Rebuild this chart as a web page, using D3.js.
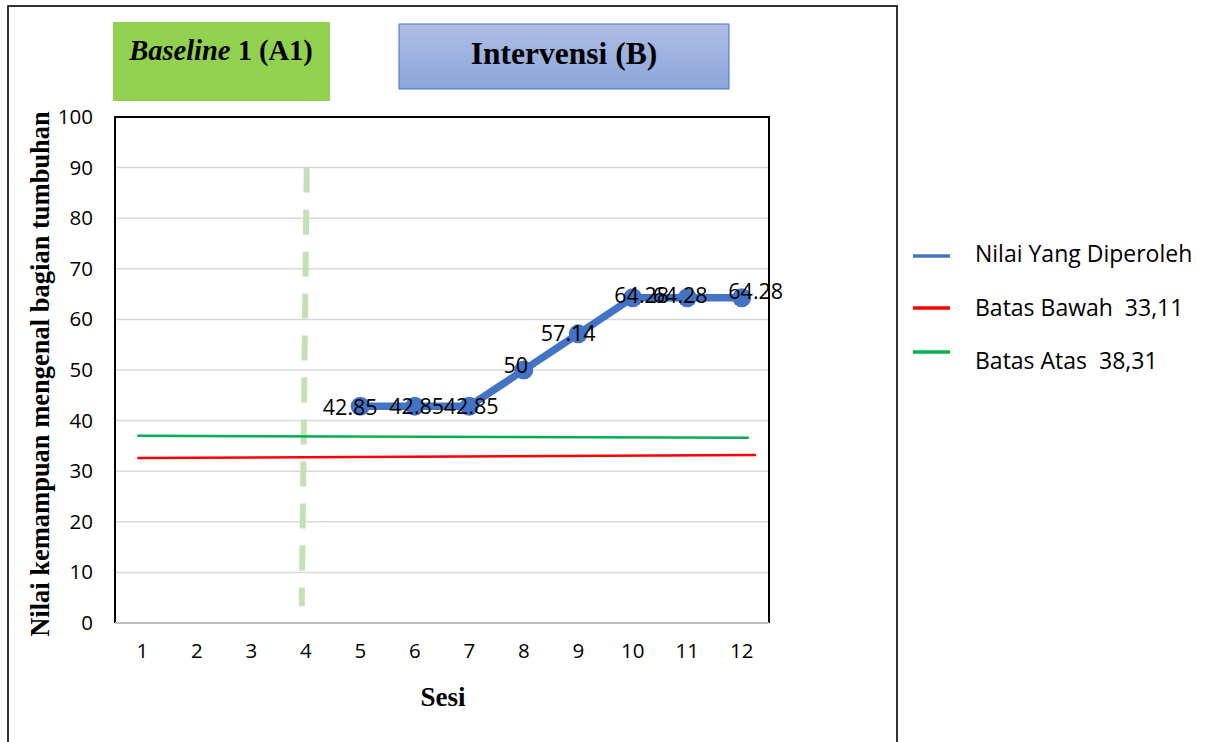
<!DOCTYPE html>
<html>
<head>
<meta charset="utf-8">
<script src="https://cdn.jsdelivr.net/npm/d3@7"></script>
<style>
  html, body { margin: 0; padding: 0; background: #fff; }
  svg { display: block; }
</style>
</head>
<body>
<svg id="chart" width="1209" height="742"></svg>
<script>
// Sessions on the x axis
const sessions = [1, 2, 3, 4, 5, 6, 7, 8, 9, 10, 11, 12];
// Scores obtained in the intervention phase (sessions 5–12)
const scoreSessions = [5, 6, 7, 8, 9, 10, 11, 12];
const scores = [42.85, 42.85, 42.85, 50, 57.14, 64.28, 64.28, 64.28];
const scoreLabels = ["42.85", "42.85", "42.85", "50", "57.14", "64.28", "64.28", "64.28"];
// Y axis ticks
const yTicks = [0, 10, 20, 30, 40, 50, 60, 70, 80, 90, 100];
// Hand-drawn band limits: [start session, start value, end session, end value]
const lowerLimit = [0.91, 32.6, 12.26, 33.2];
const upperLimit = [0.91, 37.0, 12.13, 36.6];
// Phase change line between baseline and intervention
const phaseChange = { sesi: 4, top: 90, bottom: 3.3 };
// Legend entries
const legendNames = ["Nilai Yang Diperoleh", "Batas Bawah  33,11", "Batas Atas  38,31"];
const legendColors = ["#4472c4", "#ff0000", "#00b050"];

const svg = d3.select("#chart");
const plot = { left: 115, right: 769, top: 117, bottom: 623 };

const x = d3.scaleBand().domain(sessions).range([plot.left, plot.right]);
const xc = d => x(d) + x.bandwidth() / 2;
// continuous version for the free-hand limit lines
const xl = d3.scaleLinear().domain([1, 12]).range([xc(1), xc(12)]);
const y = d3.scaleLinear().domain([0, 100]).range([plot.bottom, plot.top]);

const sans = "'Open Sans', 'Noto Sans', sans-serif";
const serif = "'Liberation Serif', 'Times New Roman', serif";

// outer frame
svg.append("rect").attr("x", 8).attr("y", 6).attr("width", 889).attr("height", 780)
  .attr("fill", "none").attr("stroke", "#000").attr("stroke-width", 1.6);

// gridlines
svg.append("g").selectAll("line").data(yTicks.filter(t => t > 0 && t < 100)).join("line")
  .attr("x1", plot.left).attr("x2", plot.right)
  .attr("y1", d => y(d)).attr("y2", d => y(d))
  .attr("stroke", "#d9d9d9").attr("stroke-width", 1.5);

// plot border (black) and category axis line (gray)
svg.append("path")
  .attr("d", `M${plot.left},${plot.bottom}V${plot.top}H${plot.right}V${plot.bottom}`)
  .attr("fill", "none").attr("stroke", "#000").attr("stroke-width", 2);
svg.append("line").attr("x1", plot.left).attr("x2", plot.right)
  .attr("y1", plot.bottom).attr("y2", plot.bottom)
  .attr("stroke", "#bfbfbf").attr("stroke-width", 2);

// y axis labels
const yAxis = d3.axisLeft(y).tickValues(yTicks).tickSize(0).tickPadding(22);
svg.append("g").attr("transform", `translate(${plot.left},0)`).call(yAxis)
  .call(g => g.select(".domain").remove())
  .call(g => g.selectAll("text").attr("font-family", sans).attr("font-size", 20.5).attr("fill", "#000"));

// x axis labels
const xAxis = d3.axisBottom(x).tickSize(0).tickPadding(20);
svg.append("g").attr("transform", `translate(0,${plot.bottom})`).call(xAxis)
  .call(g => g.select(".domain").remove())
  .call(g => g.selectAll("text").attr("font-family", sans).attr("font-size", 20.5).attr("fill", "#000"));

// axis titles
svg.append("text").attr("x", 443).attr("y", 706).attr("text-anchor", "middle")
  .attr("font-family", serif).attr("font-weight", "bold").attr("font-size", 27)
  .text("Sesi");
svg.append("text").attr("transform", "translate(49,374) rotate(-90)").attr("text-anchor", "middle")
  .attr("font-family", serif).attr("font-weight", "bold").attr("font-size", 26.5)
  .text("Nilai kemampuan mengenal bagian tumbuhan");

// phase change dashed line
svg.append("line")
  .attr("x1", xc(phaseChange.sesi) + 1).attr("y1", y(phaseChange.top))
  .attr("x2", xc(phaseChange.sesi) - 4).attr("y2", y(phaseChange.bottom))
  .attr("stroke", "#c5e0b4").attr("stroke-width", 6).attr("stroke-dasharray", "25 17");

// limit lines
const limitLine = (arr, color) => svg.append("line")
  .attr("x1", xl(arr[0])).attr("y1", y(arr[1]))
  .attr("x2", xl(arr[2])).attr("y2", y(arr[3]))
  .attr("stroke", color).attr("stroke-width", 2.5);
limitLine(upperLimit, legendColors[2]);
limitLine(lowerLimit, legendColors[1]);

// score series
const pts = scoreSessions.map((s, i) => ({ s, v: scores[i], label: scoreLabels[i] }));
svg.append("path").datum(pts)
  .attr("d", d3.line().x(d => xc(d.s)).y(d => y(d.v)))
  .attr("fill", "none").attr("stroke", legendColors[0]).attr("stroke-width", 7.5)
  .attr("stroke-linejoin", "round");
svg.append("g").selectAll("circle").data(pts).join("circle")
  .attr("cx", d => xc(d.s)).attr("cy", d => y(d.v)).attr("r", 9.5)
  .attr("fill", legendColors[0]);

// data labels, nudged around the markers (dx to text centre, dy to baseline)
const labelNudge = [[-10, 9], [2, 8], [2, 8], [-8, 3], [-10, 7], [9, 5], [-7, 5], [14, 1]];
svg.append("g").selectAll("text").data(pts).join("text")
  .attr("x", (d, i) => xc(d.s) + labelNudge[i][0])
  .attr("y", (d, i) => y(d.v) + labelNudge[i][1])
  .attr("text-anchor", "middle")
  .attr("font-family", sans).attr("font-size", 21.5).attr("fill", "#000")
  .text(d => d.label);

// legend
const legendY = [256, 308, 352];
const legendTextY = [254, 308, 361];
legendNames.forEach((name, i) => {
  svg.append("line").attr("x1", 913).attr("x2", 950)
    .attr("y1", legendY[i]).attr("y2", legendY[i])
    .attr("stroke", legendColors[i]).attr("stroke-width", 3.5);
  svg.append("text").attr("x", 975).attr("y", legendTextY[i]).attr("dy", "0.35em")
    .attr("font-family", sans).attr("font-size", 23).attr("fill", "#000")
    .attr("xml:space", "preserve").style("white-space", "pre")
    .text(name);
});

// phase header boxes
svg.append("rect").attr("x", 113).attr("y", 22).attr("width", 217).attr("height", 79)
  .attr("fill", "#92d050");
const base = svg.append("text").attr("x", 221).attr("y", 60).attr("text-anchor", "middle")
  .attr("font-family", serif).attr("font-weight", "bold").attr("font-size", 28.5);
base.append("tspan").attr("font-style", "italic").text("Baseline");
base.append("tspan").text(" 1 (A1)");

const defs = svg.append("defs");
const grad = defs.append("linearGradient").attr("id", "bGrad")
  .attr("x1", 0).attr("y1", 0).attr("x2", 0).attr("y2", 1);
grad.append("stop").attr("offset", "0%").attr("stop-color", "#aebde5");
grad.append("stop").attr("offset", "100%").attr("stop-color", "#8ca5da");
svg.append("rect").attr("x", 399).attr("y", 24).attr("width", 330).attr("height", 65)
  .attr("fill", "url(#bGrad)").attr("stroke", "#4472c4").attr("stroke-width", 1);
svg.append("text").attr("x", 564).attr("y", 64).attr("text-anchor", "middle")
  .attr("font-family", serif).attr("font-weight", "bold").attr("font-size", 31.5)
  .text("Intervensi (B)");
</script>
</body>
</html>
